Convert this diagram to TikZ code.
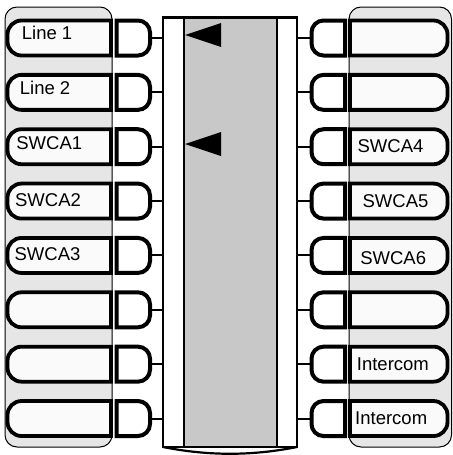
\documentclass[tikz,border=0pt]{standalone}
\usepackage{fontspec}
\setmainfont{Liberation Sans}
\usetikzlibrary{calc}
\definecolor{panelgray}{RGB}{230,230,230}
\definecolor{stripgray}{RGB}{200,200,200}
\definecolor{keywhite}{RGB}{250,250,250}

\begin{document}
\begin{tikzpicture}[
  x=0.5pt, y=-0.5pt,
  panelbox/.style={draw=black, line width=0.5pt, fill=panelgray, rounded corners=6pt,
                   inner sep=0pt, outer sep=0pt, minimum height=220pt},
  keyshape/.style={inner sep=0pt, outer sep=0pt, minimum height=17.5pt},
  lkey/.style={keyshape, minimum width=51.75pt},
  rkey/.style={keyshape, minimum width=48.75pt},
  btn/.style={keyshape, minimum width=16.75pt},
  keyline/.style={draw=black, line width=1.9pt, fill=keywhite},
  btnline/.style={draw=black, line width=2pt, fill=white},
  stripbox/.style={draw=black, line width=1.1pt, inner sep=0pt, outer sep=0pt,
                   minimum height=214.75pt},
  wire/.style={line width=1pt},
  pointer/.style={fill=black},
  keytext/.style={anchor=base west, inner sep=0pt, font=\fontsize{9.25}{11}\selectfont},
]
\useasboundingbox (0,0) rectangle (452,455);

%% Side panels
\node[panelbox, minimum width=53.5pt]  (lpanel) at (58.5,227)  {};
\node[panelbox, minimum width=51.25pt] (rpanel) at (400.25,227) {};

%% Centre strip
\node[stripbox, fill=white, minimum width=67pt]     (strip) at (230,232.25)   {};
\node[stripbox, fill=stripgray, minimum width=46.5pt] (band) at (230.5,232.25) {};
\draw[line width=1.1pt] (strip.south west) .. controls (208,456) and (252,456) .. (strip.south east);

%% Keys and buttons, one row at a time
\foreach \i in {1,...,8}{
  \pgfmathsetmacro{\yrow}{38+54.36*(\i-1)}
  \node[lkey] (lk\i) at (59.25,\yrow)  {};
  \node[btn]  (lb\i) at (133.25,\yrow) {};
  \node[btn]  (rb\i) at (328.25,\yrow) {};
  \node[rkey] (rk\i) at (398.75,\yrow) {};
  % left key: round on the left
  \draw[keyline] (lk\i.north east) -- ($(lk\i.north west)+(14,0)$)
    arc[start angle=-90, end angle=-180, radius=14] -- ($(lk\i.south west)+(0,-14)$)
    arc[start angle=180, end angle=90, radius=14] -- (lk\i.south east) -- cycle;
  % left button: round on the right
  \draw[btnline] (lb\i.north west) -- ($(lb\i.north east)+(-12,0)$)
    arc[start angle=-90, end angle=0, radius=12] -- ($(lb\i.south east)+(0,-12)$)
    arc[start angle=0, end angle=90, radius=12] -- (lb\i.south west) -- cycle;
  % right button: round on the left
  \draw[btnline] (rb\i.north east) -- ($(rb\i.north west)+(12,0)$)
    arc[start angle=-90, end angle=-180, radius=12] -- ($(rb\i.south west)+(0,-12)$)
    arc[start angle=180, end angle=90, radius=12] -- (rb\i.south east) -- cycle;
  % right key: round on the right
  \draw[keyline] (rk\i.north west) -- ($(rk\i.north east)+(-14,0)$)
    arc[start angle=-90, end angle=0, radius=14] -- ($(rk\i.south east)+(0,-14)$)
    arc[start angle=0, end angle=90, radius=14] -- (rk\i.south west) -- cycle;
  % wires to the strip
  \draw[wire] (lb\i.east) -- (lb\i.east -| strip.west);
  \draw[wire] (rb\i.west) -- (rb\i.west -| strip.east);
}

%% Pointers on the strip
\fill[pointer] (185,35)  -- (221,23)  -- (221,47)  -- cycle;
\fill[pointer] (185,144) -- (221,132) -- (221,156) -- cycle;

%% Key labels
\node[keytext] (lt1) at (21.5,39.9)  {Line 1};
\node[keytext] (lt2) at (19.5,94.9)  {Line 2};
\node[keytext] (lt3) at (16,149.6)   {SWCA1};
\node[keytext] (lt4) at (14.7,206.9) {SWCA2};
\node[keytext] (lt5) at (14.2,260)   {SWCA3};
\node[keytext] (rt3) at (357.2,152.6) {SWCA4};
\node[keytext] (rt4) at (362.2,207.3) {SWCA5};
\node[keytext] (rt5) at (359.9,264.6) {SWCA6};
\node[keytext] (rt7) at (356.5,370.3) {Intercom};
\node[keytext] (rt8) at (354.8,424.9) {Intercom};

\end{tikzpicture}
\end{document}
